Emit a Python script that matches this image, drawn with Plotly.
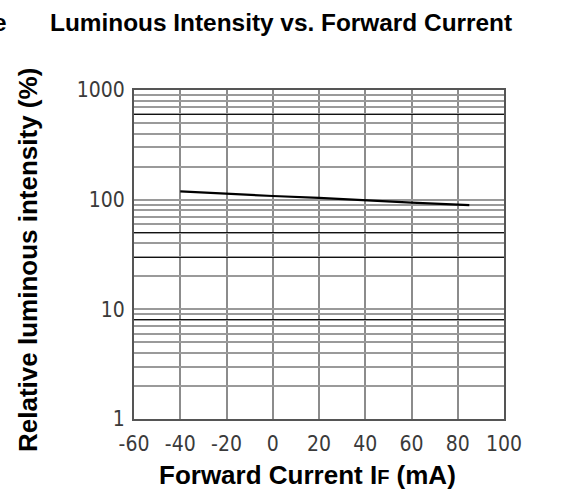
import plotly.graph_objects as go

# Data
current_mA = [-40, -20, 0, 20, 40, 60, 80, 85]
rel_intensity = [119, 113, 108, 104, 98.5, 94, 90, 89]

x_ticks = [-60, -40, -20, 0, 20, 40, 60, 80, 100]
x_ticklabels = ["-60", "-40", "-20", "0", "20", "40", "60", "80", "100"]

y_grid_vals = [m * 10 ** e for e in range(0, 3) for m in range(1, 10)] + [1000]
y_label_vals = {1: "1", 10: "10", 100: "100", 1000: "1000"}
y_dark_vals = [8, 30, 50, 600]

tick_font = dict(family="Liberation Sans Narrow, DejaVu Sans Condensed, Liberation Sans, Arial, sans-serif",
                 size=21, color="#3a3a3a")
bold_font = "Liberation Sans, Arial, sans-serif"

W, H = 565, 489
L, R, T, B = 134, 61, 90, 70
PW, PH = W - L - R, H - T - B


def px(xp):
    return (xp - L) / PW


def py(yp):
    return 1 - (yp - T) / PH


fig = go.Figure()
fig.add_trace(go.Scatter(x=current_mA, y=rel_intensity, mode="lines",
                         line=dict(color="black", width=2.2), showlegend=False,
                         hoverinfo="skip"))
# invisible trace on second y axis so that its darker grid renders
fig.add_trace(go.Scatter(x=[-60], y=[1], yaxis="y2", mode="markers",
                         marker=dict(opacity=0), showlegend=False, hoverinfo="skip"))

fig.update_layout(
    width=W, height=H,
    margin=dict(l=L, r=R, t=T, b=B),
    paper_bgcolor="white", plot_bgcolor="white",
    xaxis=dict(range=[-60, 100], tickvals=x_ticks, ticktext=x_ticklabels,
               showgrid=True, gridcolor="#8c8c8c", gridwidth=2.4,
               zeroline=False, showline=True, linecolor="#555555", linewidth=2,
               mirror=True, ticks="", tickfont=tick_font, ticklabelstandoff=5),
    yaxis=dict(type="log", range=[0, 3],
               tickvals=y_grid_vals,
               ticktext=[y_label_vals.get(v, "") for v in y_grid_vals],
               showgrid=True, gridcolor="#9a9a9a", gridwidth=2.2,
               zeroline=False, showline=True, linecolor="#555555", linewidth=2,
               mirror=True, ticks="", tickfont=tick_font, ticklabelstandoff=3),
    yaxis2=dict(type="log", range=[0, 3], overlaying="y", side="left",
                tickvals=y_dark_vals, showticklabels=False,
                showgrid=True, gridcolor="#111111", gridwidth=1.3,
                zeroline=False, showline=False, ticks=""),
    annotations=[
        dict(text="<b>Luminous Intensity vs. Forward Current</b>", xref="paper", yref="paper",
             x=px(280.5), y=py(22), xanchor="center", yanchor="middle",
             showarrow=False, font=dict(family=bold_font, size=24.4, color="black")),
        dict(text="<b>e</b>", xref="paper", yref="paper",
             x=px(9), y=py(22), xanchor="right", yanchor="middle",
             showarrow=False, font=dict(family=bold_font, size=24.4, color="black")),
        dict(text="<b>Relative luminous intensity (%)</b>", xref="paper", yref="paper",
             x=px(28), y=py(260), xanchor="center", yanchor="middle",
             textangle=-90, showarrow=False,
             font=dict(family=bold_font, size=26, color="black")),
        dict(text="<b>Forward Current I<span style='font-size:20px'>F</span> (mA)</b>",
             xref="paper", yref="paper",
             x=px(307.5), y=py(475), xanchor="center", yanchor="middle",
             showarrow=False, font=dict(family=bold_font, size=26, color="black")),
    ],
)

fig.write_html("out.html",
               config={"displayModeBar": False},
               post_script="document.body.style.margin='0';document.body.style.overflow='hidden';")
